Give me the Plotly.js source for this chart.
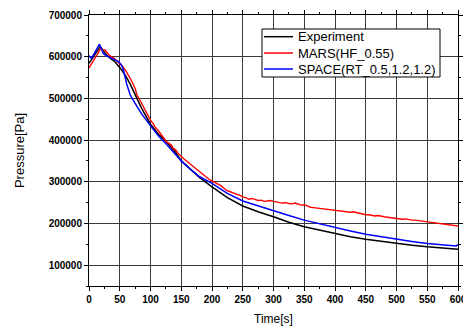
<!DOCTYPE html>
<html>
<head>
<meta charset="utf-8">
<script src="https://cdn.plot.ly/plotly-3.0.1.min.js"></script>
<style>html,body{margin:0;padding:0;background:#fff;}#chart{width:463px;height:329px;}</style>
</head>
<body>
<div id="chart"></div>
<script>
// Experiment (black)
const expT = [0,5,10,15,18,22,26,30,35,42,50,59,67,75,85,100,113,126,140,150,165,180,200,225,250,275,300,325,350,375,400,425,450,475,500,525,550,575,600];
const expP = [584000,596000,608000,620000,624000,616000,608000,602000,596000,588000,574000,556000,534000,508000,478000,438000,414000,396000,372000,350000,330000,310000,288000,262000,242000,228000,216000,203000,192000,184000,176000,168000,162000,157000,152000,148000,144000,141000,138000];

// MARS(HF_0.55) (red)
const marsT = [0,5,10,15,19,22,26,30,34,40,45,50,55,60,64,70,75,78,82,85,90,95,100,104,108,112,116,121,126,130,134,137,141,145,150,155,160,165,170,175,180,185,190,195,200,205,210,215,220,225,230,235,240,245,250,255,260,265,270,275,280,285,290,295,300,305,310,315,320,325,330,335,340,345,350,355,360,365,370,375,380,385,390,395,400,405,410,415,420,425,430,435,440,445,450,455,460,465,470,475,480,485,490,495,500,505,510,515,520,525,530,535,540,545,550,555,560,565,570,575,580,585,590,595,600];
const marsP = [573000,584000,596000,609000,620000,617000,616000,609000,602000,597000,590000,584000,576000,566000,556000,540000,524000,508000,498000,489000,474000,462000,448000,440000,430000,424000,416000,404000,396000,392000,388000,380000,376000,368000,360000,354000,348000,342000,336000,330000,322000,318000,312000,306000,302000,298000,294000,290000,284000,278000,276000,272000,270000,268000,263000,262000,258000,260000,257000,255000,256000,253000,254000,255000,253000,251000,250000,249000,250000,248000,247000,249000,246000,244000,245000,241000,239000,238000,237000,236000,236000,234000,234000,232000,232000,231000,230000,229000,228000,227000,228000,226000,225000,223000,221000,221000,219000,218000,219000,217000,216000,215000,214000,213000,212000,211000,210000,211000,209000,208000,208000,207000,207000,205000,204000,203000,203000,202000,201000,200000,199000,198000,196000,195000,194000];

// SPACE(RT_0.5,1.2,1.2) (blue)
const spaceT = [0,4,8,12,17,20,23,27,31,40,48,53,56,61,67,75,85,100,113,126,140,150,165,180,200,225,250,275,300,325,350,375,400,425,450,475,500,525,550,575,590,597,600];
const spaceP = [602000,596000,606000,618000,630000,620000,608000,603000,600000,594000,588000,580000,568000,536000,508000,488000,464000,434000,410000,390000,368000,350000,330000,312000,296000,272000,254000,242000,231000,219000,208000,199000,190000,182000,174000,168000,162000,157000,152000,148000,146000,146000,149000];

const names = ['Experiment','MARS(HF_0.55)','SPACE(RT_0.5,1.2,1.2)'];
const colors = ['#000000','#ff0000','#0000ff'];
const xTicks = [0,50,100,150,200,250,300,350,400,450,500,550,600];
const yTicks = [100000,200000,300000,400000,500000,600000,700000];

const FONT = 'Liberation Sans, Arial, sans-serif';

const traces = [
  {x: expT, y: expP, name: names[0], mode: 'lines', line: {color: colors[0], width: 1.5}},
  {x: marsT, y: marsP, name: names[1], mode: 'lines', line: {color: colors[1], width: 1.4}},
  {x: spaceT, y: spaceP, name: names[2], mode: 'lines', line: {color: colors[2], width: 1.5}}
];

// Legend drawn as a boxed key in paper coordinates (plot area 369x271 px)
const PW = 369, PH = 271;
const px2x = p => (p - 89) / PW;
const px2y = p => (286 - p) / PH;
const rowY = [36.7, 53, 69];
const shapes = [
  {type: 'rect', xref: 'paper', yref: 'paper', x0: px2x(262), x1: px2x(440), y0: px2y(77), y1: px2y(29),
   fillcolor: '#fff', line: {color: '#000', width: 1}, layer: 'above'}
];
const annotations = [];
names.forEach((n, i) => {
  shapes.push({type: 'line', xref: 'paper', yref: 'paper', x0: px2x(264), x1: px2x(293),
    y0: px2y(rowY[i]), y1: px2y(rowY[i]), line: {color: colors[i], width: 1.5}, layer: 'above'});
  annotations.push({xref: 'paper', yref: 'paper', x: px2x(296), y: px2y(rowY[i]), xanchor: 'left', yanchor: 'middle',
    text: n, showarrow: false, font: {family: FONT, size: 13, color: '#000'}});
});

const axisCommon = {
  showline: true, linecolor: '#000', linewidth: 1, mirror: 'ticks',
  ticks: 'outside', ticklen: 4, tickwidth: 1, tickcolor: '#000',
  showgrid: true, gridcolor: '#3a3a3a', gridwidth: 1,
  zeroline: false, ticklabeloverflow: 'allow',
  tickfont: {family: FONT, size: 10, color: '#000'}
};

const layout = {
  width: 463, height: 329,
  margin: {l: 89, r: 5, t: 15, b: 43},
  paper_bgcolor: '#fff', plot_bgcolor: '#fff',
  showlegend: false,
  shapes: shapes,
  annotations: annotations,
  xaxis: Object.assign({}, axisCommon, {
    range: [0, 600], tickvals: xTicks, ticktext: xTicks.map(v => '<b>' + v + '</b>'),
    minor: {ticks: 'outside', ticklen: 2, tickcolor: '#000', dtick: 25, showgrid: false},
    title: {text: 'Time[s]', font: {family: FONT, size: 12, color: '#000'}, standoff: 10}
  }),
  yaxis: Object.assign({}, axisCommon, {
    range: [50000, 700000], tickvals: yTicks, ticktext: yTicks.map(v => '<b>' + v + '</b>'),
    minor: {ticks: 'outside', ticklen: 2, tickcolor: '#000', dtick: 50000, showgrid: false},
    title: {text: 'Pressure[Pa]', font: {family: FONT, size: 13, color: '#000'}, standoff: 21}
  })
};

Plotly.newPlot('chart', traces, layout, {displayModeBar: false, staticPlot: true});
</script>
</body>
</html>
